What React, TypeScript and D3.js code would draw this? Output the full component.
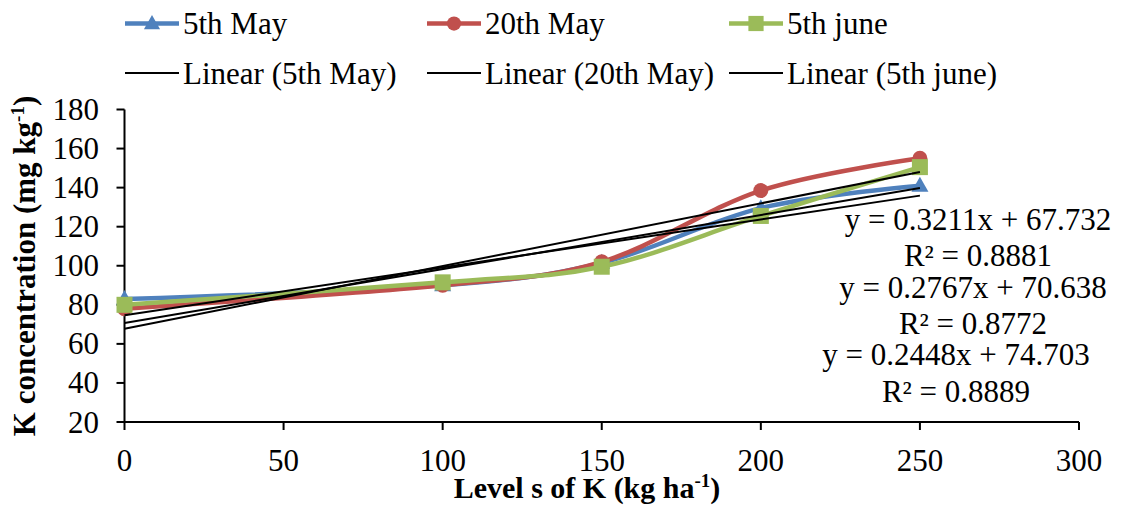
import React from 'react';
import * as d3 from 'd3';

// ---- data ----
const levels = [0, 100, 150, 200, 250];
const seriesNames = ['5th May', '20th May', '5th june'];
const may5Values = [83, 90, 101.5, 129.5, 141];
const may20Values = [78, 90, 102, 138.5, 155];
const june5Values = [80, 91.5, 99.5, 125.5, 150.5];
const trendSlopes = [0.2448, 0.3211, 0.2767];
const trendIntercepts = [74.703, 67.732, 70.638];
const trendR2 = [0.8889, 0.8881, 0.8772];
const yTicks = [20, 40, 60, 80, 100, 120, 140, 160, 180];
const xTicks = [0, 50, 100, 150, 200, 250, 300];

const W = 1122;
const H = 508;
const FONT = "'Liberation Serif', 'Times New Roman', Times, serif";
const colors = ['#4F81BD', '#C0504D', '#9BBB59'];
const shapes = ['triangle', 'circle', 'square'];

const x = d3.scaleLinear().domain([0, 300]).range([124.5, 1079]);
const y = d3.scaleLinear().domain([20, 180]).range([422, 109.5]);

function Marker({ shape, cx, cy, color, s = 1 }: { shape: string; cx: number; cy: number; color: string; s?: number }) {
  if (shape === 'circle') return <circle cx={cx} cy={cy} r={7.5 * s} fill={color} />;
  if (shape === 'square') return <rect x={cx - 8 * s} y={cy - 8 * s} width={16 * s} height={16 * s} fill={color} />;
  const h = 15 * s;
  const w = 17 * s;
  return <path d={`M${cx},${cy - h * 0.6}L${cx + w / 2},${cy + h * 0.4}L${cx - w / 2},${cy + h * 0.4}Z`} fill={color} />;
}

export default function App() {
  const series = [may5Values, may20Values, june5Values];
  const line = d3
    .line<number>()
    .x((_, i) => x(levels[i]))
    .y((d) => y(d))
    .curve(d3.curveCardinal.tension(0));

  // equation label layout (order shown top to bottom: 20th May, 5th june, 5th May)
  const labelOrder = [1, 2, 0];
  const labelPos = [
    { cx: 978, b1: 230, b2: 266 },
    { cx: 973, b1: 298, b2: 334 },
    { cx: 956, b1: 365, b2: 402 },
  ];
  const legendX = [125, 427, 729];
  const txt = { fontFamily: FONT };

  return (
    <svg
      width={W}
      height={H}
      style={{ position: 'absolute', left: 0, top: 0, display: 'block', background: '#fff' }}
    >
      <rect width={W} height={H} fill="#fff" />

      {/* legend */}
      {seriesNames.map((name, i) => (
        <g key={'l1' + i}>
          <line x1={legendX[i]} x2={legendX[i] + 54} y1={23.5} y2={23.5} stroke={colors[i]} strokeWidth={4.5} />
          <Marker shape={shapes[i]} cx={legendX[i] + 27} cy={23.5} color={colors[i]} s={0.95} />
          <text x={legendX[i] + 58} y={33.5} fontSize={31} fill="#000" style={txt}>
            {name}
          </text>
          <line x1={legendX[i]} x2={legendX[i] + 54} y1={73} y2={73} stroke="#000" strokeWidth={2} />
          <text x={legendX[i] + 58} y={84} fontSize={31} fill="#000" style={txt}>
            {`Linear (${name})`}
          </text>
        </g>
      ))}

      {/* axes */}
      <line x1={x(0)} x2={x(0)} y1={y(180)} y2={y(20)} stroke="#000" strokeWidth={2} />
      <line x1={x(0)} x2={x(300)} y1={y(20)} y2={y(20)} stroke="#000" strokeWidth={2} />
      {yTicks.map((t) => (
        <g key={'yt' + t}>
          <line x1={x(0) - 8} x2={x(0)} y1={y(t)} y2={y(t)} stroke="#000" strokeWidth={2} />
          <text x={99} y={y(t) + 10.5} fontSize={31} textAnchor="end" fill="#000" style={txt}>
            {t}
          </text>
        </g>
      ))}
      {xTicks.map((t) => (
        <g key={'xt' + t}>
          <line x1={x(t)} x2={x(t)} y1={y(20)} y2={y(20) + 8} stroke="#000" strokeWidth={2} />
          <text x={x(t)} y={471} fontSize={31} textAnchor="middle" fill="#000" style={txt}>
            {t}
          </text>
        </g>
      ))}

      {/* axis titles */}
      <text
        transform={`translate(35,266) rotate(-90)`}
        fontSize={31}
        fontWeight="bold"
        textAnchor="middle"
        fill="#000"
        style={txt}
      >
        K concentration (mg kg
        <tspan fontSize={19} dy={-11}>-1</tspan>
        <tspan dy={11}>)</tspan>
      </text>
      <text x={587} y={498} fontSize={30} fontWeight="bold" textAnchor="middle" fill="#000" style={txt}>
        Level s of K (kg ha
        <tspan fontSize={19} dy={-11}>-1</tspan>
        <tspan dy={11}>)</tspan>
      </text>

      {/* series */}
      {series.map((vals, i) => (
        <g key={'s' + i}>
          <path d={line(vals) || ''} fill="none" stroke={colors[i]} strokeWidth={4.5} strokeLinejoin="round" />
          {vals.map((v, j) => (
            <Marker key={j} shape={shapes[i]} cx={x(levels[j])} cy={y(v)} color={colors[i]} />
          ))}
        </g>
      ))}

      {/* trend lines */}
      {trendSlopes.map((m, i) => (
        <line
          key={'tr' + i}
          x1={x(0)}
          y1={y(trendIntercepts[i])}
          x2={x(250)}
          y2={y(trendIntercepts[i] + m * 250)}
          stroke="#000"
          strokeWidth={2}
        />
      ))}

      {/* equation labels */}
      {labelOrder.map((si, k) => (
        <g key={'eq' + si}>
          <text x={labelPos[k].cx} y={labelPos[k].b1} fontSize={31} textAnchor="middle" fill="#000" style={txt}>
            {`y = ${trendSlopes[si].toFixed(4)}x + ${trendIntercepts[si].toFixed(3)}`}
          </text>
          <text x={labelPos[k].cx} y={labelPos[k].b2} fontSize={31} textAnchor="middle" fill="#000" style={txt}>
            {`R² = ${trendR2[si].toFixed(4)}`}
          </text>
        </g>
      ))}
    </svg>
  );
}
